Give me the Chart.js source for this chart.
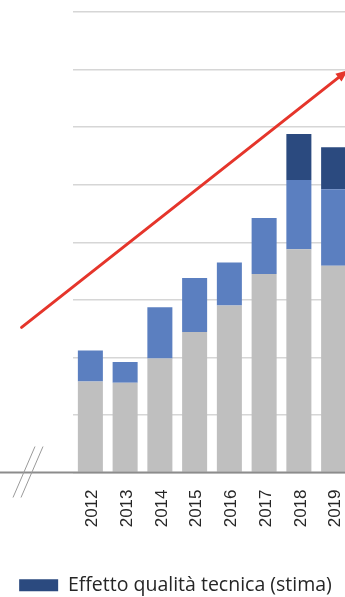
<!DOCTYPE html>
<html>
<head>
<meta charset="utf-8">
<script src="https://cdn.jsdelivr.net/npm/chart.js@4.4.1/dist/chart.umd.min.js"></script>
<style>
    html, body { margin: 0; padding: 0; background: #fff; overflow: hidden; width: 345px; height: 597px; }
    canvas { display: block; }
</style>
</head>
<body>
<canvas id="qualityChart" width="351" height="605"></canvas>
<script>
// data (1 unit = 1 gridline)
const years = ['2012', '2013', '2014', '2015', '2016', '2017', '2018', '2019'];
const baseValues     = [1.58, 1.56, 1.98, 2.44, 2.90, 3.45, 3.88, 3.59];
const volumeEffect   = [0.54, 0.36, 0.89, 0.94, 0.75, 0.97, 1.20, 1.33];
const qualityEffect  = [null, null, null, null, null, null, 0.80, 0.73];
const seriesLabels   = ['Valore base', 'Effetto volumi', 'Effetto qualità tecnica (stima)'];

// red trend arrow, in category index / value units
const arrowFrom = [-1.98, 2.52];
const arrowTo   = [7.41, 6.99];

const yMax = 8;

const axisFont = "'Liberation Sans Narrow', 'Liberation Sans', sans-serif";

const decorPlugin = {
    id: 'decor',
    afterDatasetsDraw(chart) {
        const { ctx, scales: { x, y } } = chart;
        const y0 = y.getPixelForValue(0);

        ctx.save();

        // baseline across the whole width
        ctx.strokeStyle = '#8c8c8c';
        ctx.lineWidth = 2;
        ctx.beginPath();
        ctx.moveTo(0, y0);
        ctx.lineTo(chart.width, y0);
        ctx.stroke();

        // axis break marks "//"
        ctx.strokeStyle = '#9a9a9a';
        ctx.lineWidth = 1;
        [13, 21].forEach(dx => {
            ctx.beginPath();
            ctx.moveTo(dx, y0 + 25);
            ctx.lineTo(dx + 22, y0 - 26);
            ctx.stroke();
        });

        // trend arrow
        const x1 = x.getPixelForValue(arrowFrom[0]);
        const y1 = y.getPixelForValue(arrowFrom[1]);
        const x2 = x.getPixelForValue(arrowTo[0]);
        const y2 = y.getPixelForValue(arrowTo[1]);
        const ang = Math.atan2(y2 - y1, x2 - x1);

        ctx.strokeStyle = '#e5352b';
        ctx.fillStyle = '#e5352b';
        ctx.lineWidth = 3;
        ctx.lineCap = 'round';
        ctx.beginPath();
        ctx.moveTo(x1, y1);
        ctx.lineTo(x2 - 6 * Math.cos(ang), y2 - 6 * Math.sin(ang));
        ctx.stroke();

        ctx.beginPath();
        ctx.moveTo(x2, y2);
        ctx.lineTo(x2 - 12 * Math.cos(ang) + 5 * Math.sin(ang), y2 - 12 * Math.sin(ang) - 5 * Math.cos(ang));
        ctx.lineTo(x2 - 12 * Math.cos(ang) - 5 * Math.sin(ang), y2 - 12 * Math.sin(ang) + 5 * Math.cos(ang));
        ctx.closePath();
        ctx.fill();

        ctx.restore();
    }
};

new Chart(document.getElementById('qualityChart'), {
    type: 'bar',
    data: {
        labels: years,
        datasets: [
            { label: seriesLabels[0], data: baseValues,    backgroundColor: '#bfbfbf' },
            { label: seriesLabels[1], data: volumeEffect,  backgroundColor: '#5b7fc0' },
            { label: seriesLabels[2], data: qualityEffect, backgroundColor: '#2b4a7f' }
        ]
    },
    options: {
        responsive: false,
        animation: false,
        devicePixelRatio: 1,
        datasets: {
            bar: { barPercentage: 0.72, categoryPercentage: 1, borderWidth: 0 }
        },
        layout: { padding: { top: 12 } },
        plugins: {
            legend: {
                position: 'bottom',
                labels: {
                    filter: item => item.datasetIndex === 2,
                    boxWidth: 39,
                    boxHeight: 12,
                    padding: 10,
                    color: '#262626',
                    font: { family: "'Open Sans', sans-serif", size: 19.5 }
                }
            },
            tooltip: { enabled: false }
        },
        scales: {
            x: {
                stacked: true,
                grid: { display: false, drawTicks: false },
                border: { display: false },
                ticks: {
                    maxRotation: 90,
                    minRotation: 90,
                    padding: 17,
                    labelOffset: 2,
                    color: '#262626',
                    font: { family: axisFont, size: 17 }
                },
                afterFit(scale) {
                    scale.height = 93;
                    // let the last bar run to the canvas edge
                    scale.paddingLeft = 0;
                    scale.paddingRight = 0;
                }
            },
            y: {
                stacked: true,
                min: 0,
                max: yMax,
                ticks: { display: false, stepSize: 1 },
                grid: { color: '#d6d6d6', lineWidth: 1.5, drawTicks: false },
                border: { display: false },
                afterFit(scale) { scale.width = 73; }
            }
        }
    },
    plugins: [decorPlugin]
});
</script>
</body>
</html>
